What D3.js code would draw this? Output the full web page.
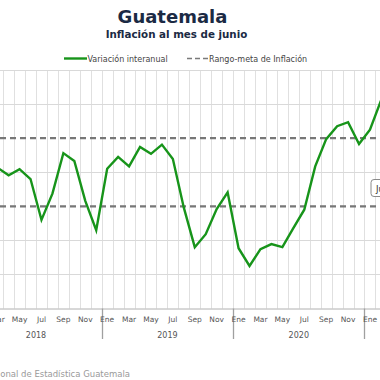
<!DOCTYPE html>
<html><head><meta charset="utf-8">
<script src="https://cdn.jsdelivr.net/npm/d3@7"></script>
<style>html,body{margin:0;padding:0;background:#fff;overflow:hidden}svg{display:block}</style>
</head><body>
<script>
// ---- data ----
const monthNames = ["Ene","Feb","Mar","Abr","May","Jun","Jul","Ago","Sep","Oct","Nov","Dic"];
const years = ["2018","2019","2020","2021"];
const tickMonths = ["Ene","Mar","May","Jul","Sep","Nov"];
const seriesMonths = ["2018-03","2018-04","2018-05","2018-06","2018-07","2018-08","2018-09","2018-10","2018-11","2018-12",
  "2019-01","2019-02","2019-03","2019-04","2019-05","2019-06","2019-07","2019-08","2019-09","2019-10","2019-11","2019-12",
  "2020-01","2020-02","2020-03","2020-04","2020-05","2020-06","2020-07","2020-08","2020-09","2020-10","2020-11","2020-12",
  "2021-01","2021-02"];
const inflation = [4.13,3.91,4.09,3.80,2.60,3.37,4.56,4.33,3.16,2.30,
  4.10,4.45,4.17,4.74,4.54,4.81,4.39,2.96,1.80,2.18,2.92,3.41,
  1.77,1.25,1.74,1.89,1.80,2.36,2.90,4.17,4.97,5.35,5.47,4.83,
  5.25,6.10];
const targetRange = [3, 5];
const yTicks = [0,1,2,3,4,5,6,7];
const legendLabels = ["Variación interanual","Rango-meta de Inflación"];

// ---- layout ----
const W = 380, H = 380;
const svg = d3.select("body").append("svg").attr("width", W).attr("height", H);
const allMonths = [];
years.forEach(y => monthNames.forEach((m, i) => allMonths.push(y + "-" + String(i + 1).padStart(2, "0"))));
const step = 10.95, left0 = -29.7;
const x = d3.scaleBand().domain(allMonths).range([left0, left0 + step * allMonths.length]).padding(0);
const y = d3.scaleLinear().domain([0, 7]).range([308.5, 70]);
const green = "#17941a";
const fontF = "'DejaVu Sans', sans-serif";
const visible = cx => cx > -12 && cx < W + 12;

// vertical grid (band boundaries)
svg.append("g").selectAll("line").data(allMonths.filter(d => x(d) >= 0 && x(d) <= W)).join("line")
  .attr("x1", d => Math.round(x(d)) + 0.5).attr("x2", d => Math.round(x(d)) + 0.5)
  .attr("y1", y(7)).attr("y2", y(0))
  .attr("stroke", "#e0e0e0").attr("stroke-width", 1);

// horizontal grid
svg.append("g").selectAll("line").data(yTicks.filter(t => t > 0 && !targetRange.includes(t))).join("line")
  .attr("x1", 0).attr("x2", W).attr("y1", d => Math.round(y(d)) + 0.5).attr("y2", d => Math.round(y(d)) + 0.5)
  .attr("stroke", "#d9d9d9").attr("stroke-width", 1);

// target range dashed
svg.append("g").selectAll("line").data(targetRange).join("line")
  .attr("x1", 0).attr("x2", W).attr("y1", d => y(d)).attr("y2", d => y(d))
  .attr("stroke", "#777").attr("stroke-width", 2.3).attr("stroke-dasharray", "6,4");

// x axis line
svg.append("line").attr("x1", 0).attr("x2", W).attr("y1", y(0) + 0.5).attr("y2", y(0) + 0.5)
  .attr("stroke", "#b0b0b0").attr("stroke-width", 1);

// year separators
svg.append("g").selectAll("line").data(years.filter(d => x(d + "-01") >= 0 && x(d + "-01") <= W)).join("line")
  .attr("x1", d => Math.round(x(d + "-01")) + 0.5).attr("x2", d => Math.round(x(d + "-01")) + 0.5)
  .attr("y1", y(0)).attr("y2", 339)
  .attr("stroke", "#a0a0a0").attr("stroke-width", 1.3);

// month labels
svg.append("g").selectAll("text")
  .data(allMonths.filter(d => tickMonths.includes(monthNames[+d.slice(5) - 1]) && visible(x(d) + x.bandwidth() / 2)))
  .join("text")
  .attr("x", d => x(d) + x.bandwidth() / 2).attr("y", 322)
  .attr("text-anchor", "middle").attr("font-family", fontF).attr("font-size", 7.5).attr("fill", "#555")
  .text(d => monthNames[+d.slice(5) - 1]);

// year labels
svg.append("g").selectAll("text").data(years.filter(d => visible(x(d + "-01") + step * 6))).join("text")
  .attr("x", d => x(d + "-01") + step * 6).attr("y", 338)
  .attr("text-anchor", "middle").attr("font-family", fontF).attr("font-size", 8).attr("fill", "#555")
  .text(d => d);

// line
const pts = seriesMonths.map((m, i) => ({m, v: inflation[i]}));
svg.append("path").datum(pts)
  .attr("d", d3.line().x(d => x(d.m) + x.bandwidth() / 2).y(d => y(d.v)))
  .attr("fill", "none").attr("stroke", green).attr("stroke-width", 2.4).attr("stroke-linejoin", "miter");

// label box at right
svg.append("rect").attr("x", 371).attr("y", 179.5).attr("width", 60).attr("height", 17).attr("rx", 3)
  .attr("fill", "#fff").attr("stroke", "#8a8a8a").attr("stroke-width", 1);
svg.append("text").attr("x", 376).attr("y", 191.5).attr("font-family", fontF).attr("font-size", 8.5).attr("fill", "#333")
  .text("Jun-21");

// titles
svg.append("text").attr("x", 172.5).attr("y", 23).attr("text-anchor", "middle")
  .attr("font-family", fontF).attr("font-weight", "bold").attr("font-size", 18).attr("fill", "#1b2a44")
  .text("Guatemala");
svg.append("text").attr("x", 176.5).attr("y", 38).attr("text-anchor", "middle")
  .attr("font-family", fontF).attr("font-weight", "bold").attr("font-size", 10.3).attr("fill", "#1b2a44")
  .text("Inflación al mes de junio");

// legend
const lg = svg.append("g");
lg.append("line").attr("x1", 64).attr("x2", 87).attr("y1", 58.5).attr("y2", 58.5).attr("stroke", green).attr("stroke-width", 2.4);
lg.append("text").attr("x", 87.5).attr("y", 61.5).attr("font-family", fontF).attr("font-size", 8).attr("fill", "#444").text(legendLabels[0]);
lg.append("line").attr("x1", 187).attr("x2", 208).attr("y1", 58.5).attr("y2", 58.5).attr("stroke", "#7a7a7a").attr("stroke-width", 1.6).attr("stroke-dasharray", "5,3");
lg.append("text").attr("x", 209).attr("y", 61.5).attr("font-family", fontF).attr("font-size", 8).attr("fill", "#444").text(legendLabels[1]);

// source
svg.append("text").attr("x", 130).attr("y", 377).attr("text-anchor", "end")
  .attr("font-family", fontF).attr("font-size", 8.5).attr("fill", "#9a9a9a")
  .text("Fuente: Instituto Nacional de Estadística Guatemala");
</script>
</body></html>
